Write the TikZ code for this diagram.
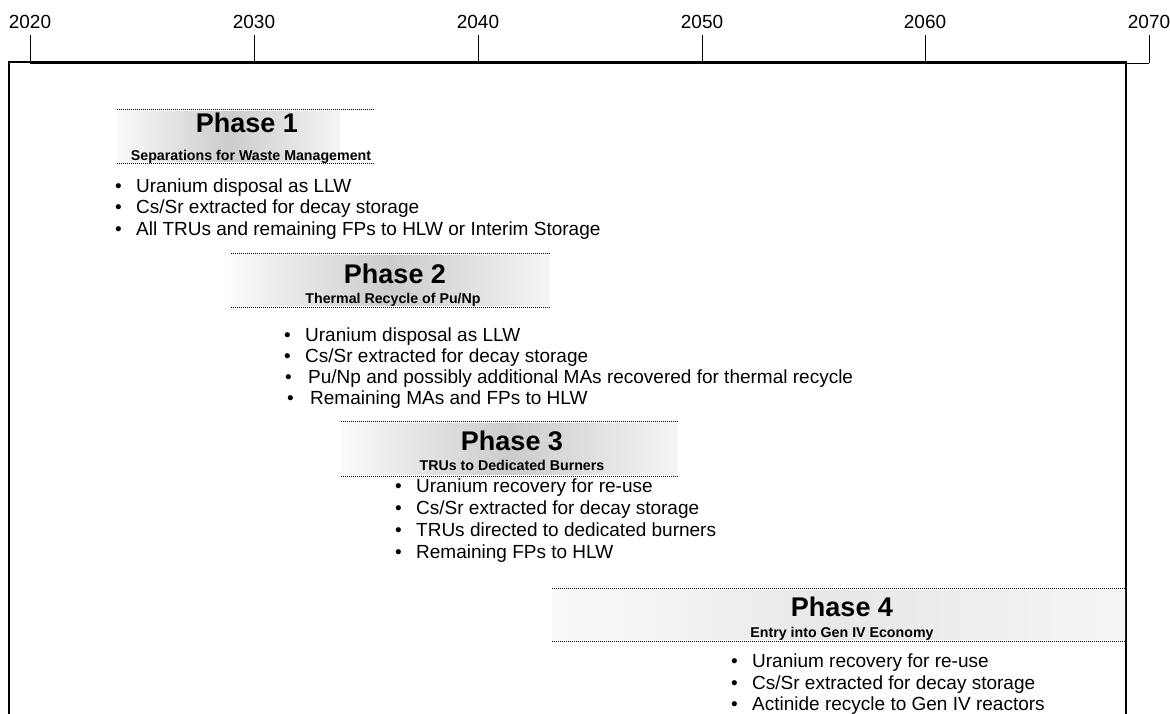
\documentclass[tikz,border=0pt]{standalone}
\usepackage{fontspec}
\setmainfont{Liberation Sans}
\newcommand\bl[2][14.5pt]{\llap{\textbullet\hspace{#1}}#2}
\begin{document}
\begin{tikzpicture}[x=1pt,y=-1pt,
  frame/.style={line width=2.5pt},
  axisline/.style={line width=1pt},
  dotline/.style={line width=0.9pt, dash pattern=on 0.9pt off 1.1pt},
  band/.style={left color=gray!4, right color=gray!8, middle color=gray!40, draw=none},
  title/.style={font=\fontsize{27}{31}\bfseries\selectfont, anchor=base, inner sep=0},
  sub/.style={font=\fontsize{14.2}{17}\bfseries\selectfont, anchor=base, inner sep=0},
  item/.style={font=\fontsize{19}{22}\selectfont, anchor=base west, inner sep=0},
  year/.style={font=\fontsize{19}{21}\selectfont, anchor=base, inner sep=0}]
\useasboundingbox (0,0) rectangle (1170,713);
% timeline
\foreach \yr/\x in {2020/30,2030/254,2040/478,2050/702,2060/925,2070/1149}{
  \coordinate (t\yr) at (\x,35);
  \coordinate (b\yr) at (\x,63);
  \node[year] (l\yr) at (\x,28) {\yr};
  \draw[axisline] (t\yr) -- (b\yr);
}
\draw[axisline] (b2020) -- (b2070);
% frame
\coordinate (fbl) at (9,720);
\coordinate (ftl) at (9,62);
\coordinate (ftr) at (1126,62);
\coordinate (fbr) at (1126,720);
\draw[frame] (fbl) -- (ftl) -- (ftr) -- (fbr);

% Phase 1
\path[band] (117,111) rectangle (340,161);
\coordinate (p1a) at (117,109); \coordinate (p1b) at (375,109);
\coordinate (p1c) at (117,163); \coordinate (p1d) at (375,163);
\draw[dotline] (p1a) -- (p1b);
\draw[dotline] (p1c) -- (p1d);
\node[title] (p1t) at (247,132) {Phase 1};
\node[sub] (p1s) at (251,160) {Separations for Waste Management};
\node[item] (p1i1) at (136,192) {\bl{Uranium disposal as LLW}};
\node[item] (p1i2) at (136,213) {\bl{Cs/Sr extracted for decay storage}};
\node[item] (p1i3) at (136,235) {\bl{All TRUs and remaining FPs to HLW or Interim Storage}};

% Phase 2
\path[band] (231,255) rectangle (550,305);
\coordinate (p2a) at (231,253); \coordinate (p2b) at (550,253);
\coordinate (p2c) at (231,307); \coordinate (p2d) at (550,307);
\draw[dotline] (p2a) -- (p2b);
\draw[dotline] (p2c) -- (p2d);
\node[title] (p2t) at (395,283) {Phase 2};
\node[sub] (p2s) at (393,303) {Thermal Recycle of Pu/Np};
\node[item] (p2i1) at (305,341) {\bl{Uranium disposal as LLW}};
\node[item] (p2i2) at (305,362) {\bl{Cs/Sr extracted for decay storage}};
\node[item] (p2i3) at (308,383) {\bl[16.5pt]{Pu/Np and possibly additional MAs recovered for thermal recycle}};
\node[item] (p2i4) at (310,404) {\bl[16.5pt]{Remaining MAs and FPs to HLW}};

% Phase 3
\path[band] (341,423) rectangle (678,474);
\coordinate (p3a) at (341,421); \coordinate (p3b) at (678,421);
\coordinate (p3c) at (341,476); \coordinate (p3d) at (678,476);
\draw[dotline] (p3a) -- (p3b);
\draw[dotline] (p3c) -- (p3d);
\node[title] (p3t) at (512,450) {Phase 3};
\node[sub] (p3s) at (512,470) {TRUs to Dedicated Burners};
\node[item] (p3i1) at (416,492) {\bl{Uranium recovery for re-use}};
\node[item] (p3i2) at (416,514) {\bl{Cs/Sr extracted for decay storage}};
\node[item] (p3i3) at (416,536) {\bl{TRUs directed to dedicated burners}};
\node[item] (p3i4) at (416,558) {\bl{Remaining FPs to HLW}};

% Phase 4
\path[band, middle color=gray!18] (552,590) rectangle (1125,639);
\coordinate (p4a) at (552,588); \coordinate (p4b) at (1125,588);
\coordinate (p4c) at (552,641); \coordinate (p4d) at (1125,641);
\draw[dotline] (p4a) -- (p4b);
\draw[dotline] (p4c) -- (p4d);
\node[title] (p4t) at (842,616) {Phase 4};
\node[sub] (p4s) at (842,637) {Entry into Gen IV Economy};
\node[item] (p4i1) at (752,667) {\bl{Uranium recovery for re-use}};
\node[item] (p4i2) at (752,689) {\bl{Cs/Sr extracted for decay storage}};
\node[item] (p4i3) at (752,710) {\bl{Actinide recycle to Gen IV reactors}};
\end{tikzpicture}
\end{document}
